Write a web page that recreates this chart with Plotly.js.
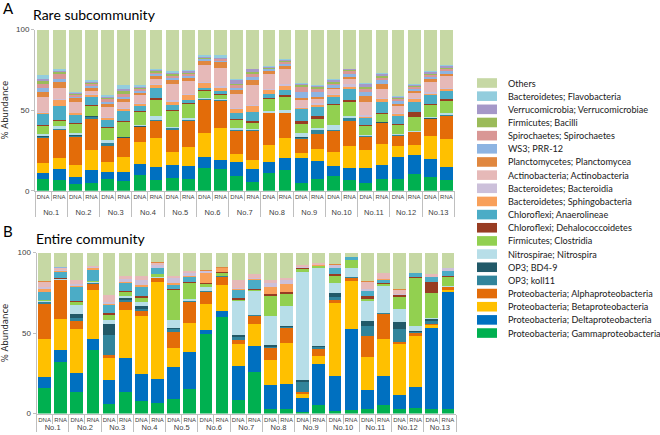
<!DOCTYPE html>
<html><head><meta charset="utf-8">
<script src="https://cdn.plot.ly/plotly-3.0.1.min.js"></script>
<style>html,body{margin:0;padding:0;background:#fff}#chart{width:660px;height:435px}</style>
</head><body><div id="chart"></div>
<script>
// ---- categories ----
const groups = ['No.1','No.2','No.3','No.4','No.5','No.6','No.7','No.8','No.9','No.10','No.11','No.12','No.13'];
const nucleic = ['DNA','RNA'];
// taxa listed bottom-of-stack first
const taxa = [
  'Proteobacteria; Gammaproteobacteria','Proteobacteria; Deltaproteobacteria','Proteobacteria; Betaproteobacteria',
  'Proteobacteria; Alphaproteobacteria','OP3; koll11','OP3; BD4-9','Nitrospirae; Nitrospira','Firmicutes; Clostridia',
  'Chloroflexi; Dehalococcoidetes','Chloroflexi; Anaerolineae','Bacteroidetes; Sphingobacteria','Bacteroidetes; Bacteroidia',
  'Actinobacteria; Actinobacteria','Planctomycetes; Planctomycea','WS3; PRR-12','Spirochaetes; Spirochaetes',
  'Firmicutes; Bacilli','Verrucomicrobia; Verrucomicrobiae','Bacteroidetes; Flavobacteria','Others'];
const colors = ['#00B050','#0070C0','#FFC000','#E36C09','#31849B','#215968','#B7DEE8','#92D050',
  '#983C22','#4BACC6','#F8A05A','#CCC0DA','#E6B9B8','#E0873F','#8DB4E2','#D99795','#9BBB59','#A598C8','#93CDDD','#C6D8A4'];

// ---- A: rare subcommunity (% abundance, bars No.1 DNA, No.1 RNA, ... No.13 RNA) ----
const rareGamma = [7,6.4,4.1,4.5,7.2,6,9.7,6.6,7.6,7.2,13.8,13.2,9.3,5.6,10.7,12.8,5,7.2,9.1,6.6,5,7.2,7.2,10.3,8.3,6.6];
const rareDelta = [4.2,7,4.6,8.3,4.6,5.8,6.8,8.3,8.3,8.3,6.9,5.8,8.7,7.6,7.3,7.7,15.5,11.2,6.4,7.2,8.8,8.7,13.5,11.8,11.3,7.9];
const rareBeta = [5.8,7.1,7.2,12.4,5.8,9.3,13.9,17.5,7.9,11.8,15.3,20,4.5,5.8,10.3,11.9,3.1,7.4,8.7,13.9,11.4,13,7,6.2,14.3,17.3];
const rareAlpha = [16,17.1,17.6,19,10.3,11.3,8.9,10.8,13.8,15.9,20.2,16.6,14.5,18,19.6,15.5,8.2,9.1,12.8,15.5,8.3,12.8,6.4,7.9,10.3,14.5];
const rareKoll11 = [0.5,0.4,0.5,1.3,1.4,0.6,0.4,0.6,1,0.6,0.5,0.4,0.4,0.4,0.2,0.2,1.1,2.7,0.4,1.6,0.5,0.5,0.3,0.2,0.4,0.4];
const rareBD49 = [0.3,0.3,0.3,0.8,0.5,0.2,0.3,0.3,0.3,0.2,0.2,0.2,0.2,0.2,0.2,0.2,0.3,0.3,0.2,0.3,0.2,0.2,0.2,0.2,0.2,0.2];
const rareNitrospira = [1.2,2,1.2,0.2,1.6,0.3,0.5,2.2,0.4,1.2,0.3,0.4,1,0.6,1.1,1.7,2.3,1.1,3.1,1.4,0.3,0.4,0.3,0.4,1.1,1];
const rareClostridia = [5,3,5.8,6,7.2,9.3,8.5,9.9,10.1,8.3,4.6,2.7,5.2,3.9,7.2,8.3,5.8,5.2,12.4,8.7,5.6,4.5,5.8,8.5,7.2,7.7];
const rareDehalo = [0.5,0.6,0.7,0.8,0.7,0.4,0.4,1.4,0.6,0.6,0.6,0.6,0.6,1.1,0.6,0.8,2.1,2.1,0.6,1,0.6,0.6,0.6,3.1,0.6,1];
const rareAnaero = [7,8.6,4.9,5,4.5,6.2,3.1,6.4,3.1,2.1,1.6,2.1,3.5,5.8,3.1,3.3,7,5.8,4.6,6.6,4.1,7.3,5,6.6,5.6,5.4];
const rareSphingo = [0.8,3.7,1,1,1,1,1,1.5,2.1,3.1,2.9,2,2.5,3.5,2.1,2.5,0.6,1,1,1.7,1.1,1.4,1,1.4,1,1.4];
const rareBacteroidia = [0.7,0.8,0.4,0.6,1.1,0.6,1,1,1,1,0.7,0.9,0.6,0.6,1,1,0.7,1,1,1.4,1,1,0.6,1,0.7,0.6];
const rareActino = [9,6.6,6.9,2.1,6.2,4.2,4.8,3.1,10.3,7.7,10.3,11.3,8.7,12.4,8.9,9.9,4.5,2.7,2.5,3.1,8.3,5.2,4.6,3.1,6.6,7.1];
const rarePlancto = [3.5,3.7,2,2,1.6,1.4,1.4,1.4,2.1,2.2,2.7,3.7,2.7,3.1,1.9,1.7,1,1.5,1.2,1.7,3.5,3.3,1.2,1.3,1.4,1.6];
const rarePRR12 = [2,2,1,0.9,1.5,1.7,1.3,1.3,1.4,0.8,0.8,0.7,1.6,2,1,1.4,4.2,3.1,1.5,2,2.7,2.5,1.9,1.4,1.7,1.7];
const rareSpiro = [3,3.1,1.1,1.6,1.4,2,0.8,0.8,1,1.3,0.6,0.8,1.5,1.7,0.6,0.9,3.1,2,1,1.5,2,1.2,1,1.1,1,1];
const rareBacilli = [1.8,1,1,0.6,1,1.3,0.8,0.9,1.3,0.8,0.6,0.4,1,1.5,0.6,0.8,1,1.1,1.1,0.6,1.1,1.3,0.6,0.6,1,1];
const rareVerruco = [1,1.1,0.4,0.4,0.7,1.2,0.9,0.8,0.8,0.9,0.5,0.6,2.1,1.6,0.5,0.6,1,0.6,1,0.4,1.6,1.2,0.7,0.6,1.1,0.9];
const rareFlavo = [2.5,1,0.7,1.1,1,2.7,1,1,1.1,0.8,1,1.7,0.4,0.4,0.6,0.6,0.6,0.6,1,0.6,0.8,0.8,0.8,0.8,0.6,0.6];
const rareOthers = [28.2,24.5,38.6,31.4,40.7,34.5,34.5,24.2,25.8,25.2,15.9,15.9,31,24.2,22.5,18.2,32.9,34.3,30.4,24.2,33.1,26.9,41.3,33.5,25.6,22.1];

// ---- B: entire community ----
const entireGamma = [15.9,32.1,13.5,39.3,5.6,13.5,7.9,6.5,9.3,15.5,49.1,60,8.3,25.9,3.1,3.1,1,5.2,1.7,2.1,3.1,5.2,3.1,3.5,3.1,2.5];
const entireDelta = [6.9,7.2,11.8,6.7,15.1,21.1,16.5,15.2,19.7,22.4,2.7,3.6,21.3,15.9,14.5,15.1,8.9,25.4,21.5,50.1,11.8,18,8.3,13.1,50.3,73.1];
const entireBeta = [23.2,19.5,26.9,30.6,13.5,29.6,36.3,59.7,11.8,18.6,16.5,16.5,13.5,13.7,15.5,25.3,2.5,5,45.5,30,20.3,22.8,31.7,31.4,1.3,1.4];
const entireAlpha = [22.3,24,5.4,4.1,2,5.2,3.1,2.5,9.9,12.9,7.3,4.8,2.4,5.2,7.3,9.9,1.1,4.4,2.1,2.1,13,16.1,1.4,1.7,0.8,1.3];
const entireKoll11 = [0.7,0.2,2,0.3,12.5,1,1.4,0.3,1.5,0.4,0.2,0.2,2.1,0.3,1,0.6,6.2,1.4,1.7,0.2,6,0.2,7.7,1,2,0.2];
const entireBD49 = [0.4,0.2,2.1,0.2,7.2,1.4,1.5,0.2,1.2,0.2,0.1,0.1,1.1,0.2,1,0.2,1.4,0.8,2.4,0.2,3.4,0.2,4.7,0.3,1.5,0.2];
const entireNitrospira = [0.2,0.2,5.6,0.3,2,1.3,2.7,0.2,4.6,1.4,2.4,0.1,21.3,15,18.1,12.5,66.9,47.9,6.3,5.6,12.4,16.6,8.3,3.5,0.2,0.2];
const entireClostridia = [0.8,0.4,2.1,0.9,3.1,2.3,2.6,1.9,19,9.8,2.4,2.1,0.2,0.8,12.4,7.8,1.9,1.4,4.1,5.1,1.4,1.6,7.3,29.8,15.7,5.8];
const entireDehalo = [0.2,0.2,0.4,0.2,1.5,0.6,1.1,0.2,0.2,0.2,0.2,0.2,1.6,0.2,1.2,0.9,0.2,0.2,1.4,0.2,1.7,0.2,1,0.2,6.9,0.8];
const entireAnaero = [5,4,8.5,6.8,4.8,5.2,5.2,3.4,2.5,3.5,0.3,0.2,5.2,6,0.2,0.2,0.2,0.2,3.4,1.5,3.1,2.3,0.2,2.9,2.7,3.1];
const entireSphingo = [1.6,0.4,0.8,1.1,1,0.4,1.4,0.4,1.5,0.4,5.8,2.3,0.6,0.4,4,4.7,0.2,0.2,0.2,0,0.2,0.2,0.2,0,0.2,0.2];
const entireBacteroidia = [1.5,1,1.6,0.4,1.1,1.8,3.5,2,2.7,1.7,1.4,0.2,0.4,0.4,2.9,2.5,0.2,0.2,1.8,0,1.2,0.2,0.2,0,0.2,1.5];
const entireActino = [3.1,1,2.1,0.8,4.1,1.9,2.1,1.1,1.4,1.6,0.4,0.2,4.8,2.5,1.6,1.1,1.4,0.9,0.4,0,4.2,3.4,2.9,0,1.6,0.2];
const entirePlancto = [0.4,0.2,0.2,0.2,0.2,0.2,0.2,0.2,0.2,0.2,0.2,0.2,0.2,0.2,0.2,0.2,0.1,0.1,0.2,0,0.2,0.2,0.1,0,0,0];
const entirePRR12 = [0.2,0.1,0.1,0,0,0,0,0,0,0,0,0,0,0,0,0,0,0,0,0,0,0,0,0,0,0];
const entireSpiro = [0.2,0.1,0.1,0,0,0,0,0,0,0,0,0,0,0,0,0,0,0,0,0,0,0,0,0,0,0];
const entireBacilli = [0,0,0,0,0,0,0,0,0,0,0,0,0,0,0,0,0,0,0,0,0,0,0,0,0,0];
const entireVerruco = [0,0,0,0,0,0,0,0,0,0,0,0,0,0,0,0,0,0,0,0,0,0,0,0,0,0];
const entireFlavo = [0,0,0,0,0,0,0,0,0,0,0,0,0,0,0,0,0,0,0,0,0,0,0,0,0,0];
const entireOthers = [17.4,9.2,16.8,8.1,26.3,14.5,14.5,6.2,14.5,11.2,11,9.3,17,13.3,17,15.9,7.8,6.7,7.3,2.9,18,12.8,22.9,12.6,13.5,9.5];

const rareSeries = [rareGamma,rareDelta,rareBeta,rareAlpha,rareKoll11,rareBD49,rareNitrospira,rareClostridia,rareDehalo,
  rareAnaero,rareSphingo,rareBacteroidia,rareActino,rarePlancto,rarePRR12,rareSpiro,rareBacilli,rareVerruco,rareFlavo,rareOthers];
const entireSeries = [entireGamma,entireDelta,entireBeta,entireAlpha,entireKoll11,entireBD49,entireNitrospira,entireClostridia,entireDehalo,
  entireAnaero,entireSphingo,entireBacteroidia,entireActino,entirePlancto,entirePRR12,entireSpiro,entireBacilli,entireVerruco,entireFlavo,entireOthers];

// ---- build ----
const W = 660, H = 435;
const px = x => x / W, py = y => 1 - y / H;
const grpLabel = g => '<span style="font-size:7.5px">' + g + '</span>';
const xLevel1 = groups.flatMap(g => [grpLabel(g), grpLabel(g)]);
// top panel: a tiny spacer line under DNA/RNA pushes the group row slightly lower
const xLevel2Top = groups.flatMap(() => nucleic.map(n => n + '<br><span style="font-size:3px"> </span>'));
const xLevel2Bottom = groups.flatMap(() => nucleic);

const traces = [];
[[rareSeries,'x','y',xLevel2Top],[entireSeries,'x2','y2',xLevel2Bottom]].forEach(([series, xa, ya, lvl2]) => {
  series.forEach((vals, i) => {
    traces.push({type:'bar', x:[xLevel1, lvl2], y: vals, name: taxa[i],
      marker:{color: colors[i], line:{width:0}}, xaxis: xa, yaxis: ya, showlegend:false, hoverinfo:'name+y'});
  });
});

const axisFont = {family:'Liberation Sans, Arial, sans-serif', size:8, color:'#404040'};
function xAxis(dom, anchor){
  return {type:'multicategory', domain:dom, anchor:anchor, showline:true, linecolor:'#BFBFBF', linewidth:1,
    ticks:'outside', ticklen:9, tickcolor:'#BFBFBF', tickwidth:1, tickangle:0, showdividers:true, dividercolor:'#BFBFBF', dividerwidth:1,
    tickfont:{family:'Liberation Sans, Arial, sans-serif', size:6, color:'#404040'}, showgrid:false, zeroline:false, automargin:false};
}
function yAxis(dom, anchor){
  return {domain:dom, anchor:anchor, range:[0,100], tickvals:[0,50,100], showline:true, linecolor:'#BFBFBF', linewidth:1,
    ticks:'outside', ticklen:3, tickcolor:'#BFBFBF', showgrid:false, zeroline:false, tickfont:axisFont, automargin:false,
    title:{text:'% Abundance', font:{family:'DejaVu Sans, sans-serif', size:8.5, color:'#262626'}, standoff:10}};
}

const annotations = [
  {text:'A', x:px(8), y:py(8), font:{family:'Lato, sans-serif', size:15, color:'#000'}},
  {text:'Rare subcommunity', x:px(94), y:py(15), font:{family:'Lato, sans-serif', size:14, color:'#000'}},
  {text:'B', x:px(8), y:py(231), font:{family:'Lato, sans-serif', size:15, color:'#000'}},
  {text:'Entire community', x:px(91), y:py(238), font:{family:'Lato, sans-serif', size:14, color:'#000'}}
].map(a => Object.assign({xref:'paper', yref:'paper', showarrow:false, xanchor:'center', yanchor:'middle'}, a));

const shapes = [];
const legendTop = 83, legendStep = 13.16;
for (let k = 0; k < taxa.length; k++) {
  const i = taxa.length - 1 - k;
  const yc = legendTop + k * legendStep;
  shapes.push({type:'rect', xref:'paper', yref:'paper', x0:px(477), x1:px(497), y0:py(yc + 4.8), y1:py(yc - 4.8),
    fillcolor: colors[i], line:{width:0}});
  annotations.push({text: taxa[i], xref:'paper', yref:'paper', x:px(505.5), y:py(yc), xanchor:'left', yanchor:'middle',
    showarrow:false, font:{family:'Lato, sans-serif', size:9.1, color:'#1a1a1a'}});
}

const layout = {
  width:W, height:H, margin:{l:0, r:0, t:0, b:0}, paper_bgcolor:'#fff', plot_bgcolor:'#fff',
  barmode:'stack', bargap:0.21, showlegend:false,
  xaxis: xAxis([px(35), px(454.5)], 'y'),
  yaxis: yAxis([py(190.7), py(29.5)], 'x'),
  xaxis2: xAxis([px(36.5), px(456)], 'y2'),
  yaxis2: yAxis([py(413.5), py(252.5)], 'x2'),
  annotations: annotations, shapes: shapes
};
Plotly.newPlot('chart', traces, layout, {displayModeBar:false, staticPlot:true});
</script></body></html>
